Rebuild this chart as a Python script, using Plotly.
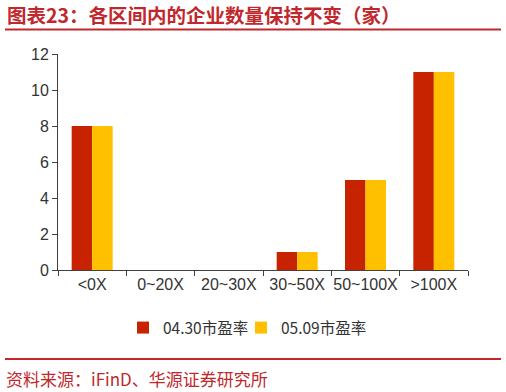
import plotly.graph_objects as go

categories = ["<0X", "0~20X", "20~30X", "30~50X", "50~100X", ">100X"]
series_0430 = [8, 0, 0, 1, 5, 11]
series_0509 = [8, 0, 0, 1, 5, 11]
series_names = ["04.30市盈率", "05.09市盈率"]
y_ticks = [0, 2, 4, 6, 8, 10, 12]

RED = "#C82300"
YELLOW = "#FFC000"
TITLE_RED = "#C0282D"
CJK = "Noto Sans CJK SC, Liberation Sans, Arial, sans-serif"
SANS = "Liberation Sans, Arial, sans-serif"

L, R, T, B = 58, 468, 54, 270
PW, PH = R - L, B - T

def px(x):
    return (x - L) / PW

def py(y):
    return (B - y) / PH

fig = go.Figure()
fig.add_bar(x=categories, y=series_0430, name=series_names[0], marker_color=RED,
            marker_line_width=0, legend="legend")
fig.add_bar(x=categories, y=series_0509, name=series_names[1], marker_color=YELLOW,
            marker_line_width=0, legend="legend2")

leg_common = dict(orientation="h", yanchor="middle", y=py(328), xanchor="left",
                  font=dict(family=CJK, size=15.5, color="#333333"),
                  itemwidth=30, bgcolor="rgba(0,0,0,0)", borderwidth=0)

fig.update_layout(
    width=506, height=392,
    margin=dict(l=L, r=506 - R, t=T, b=392 - B, autoexpand=False),
    paper_bgcolor="white", plot_bgcolor="white",
    barmode="group", bargap=0.4, bargroupgap=0,
    font=dict(family=SANS, size=16, color="#333333"),
    showlegend=True,
    legend=dict(x=px(123), **leg_common),
    legend2=dict(x=px(241), **leg_common),
    xaxis=dict(type="category", showline=True, linecolor="#404040", linewidth=1,
               ticks="outside", tickson="boundaries", ticklen=5, tickcolor="#404040",
               showgrid=False, tickangle=0, tickfont=dict(family=SANS, size=16, color="#333333"),
               automargin=False),
    yaxis=dict(range=[0, 12], tickvals=y_ticks, showline=True, linecolor="#404040", linewidth=1,
               ticks="outside", ticklen=5, tickcolor="#404040", showgrid=False, zeroline=False,
               tickfont=dict(family=SANS, size=16, color="#333333"), automargin=False),
    annotations=[
        dict(text="<b>图表23：各区间内的企业数量保持不变（家）</b>", xref="paper", yref="paper",
             x=px(5), xanchor="left", y=py(14), yanchor="middle",
             showarrow=False, font=dict(family=CJK, size=19.5, color=TITLE_RED)),
        dict(text="资料来源：iFinD、华源证券研究所", xref="paper", yref="paper",
             x=px(4), xanchor="left", y=py(378), yanchor="middle",
             showarrow=False, font=dict(family=CJK, size=17, color=TITLE_RED)),
    ],
    shapes=[
        dict(type="line", xref="paper", yref="paper", x0=px(5), x1=px(501),
             y0=py(29.5), y1=py(29.5), line=dict(color=TITLE_RED, width=2)),
        dict(type="line", xref="paper", yref="paper", x0=px(5), x1=px(501),
             y0=py(359), y1=py(359), line=dict(color=TITLE_RED, width=2)),
    ],
)

fig.write_html("out.html", post_script="document.body.style.margin='0';",
               config={"displayModeBar": False})
